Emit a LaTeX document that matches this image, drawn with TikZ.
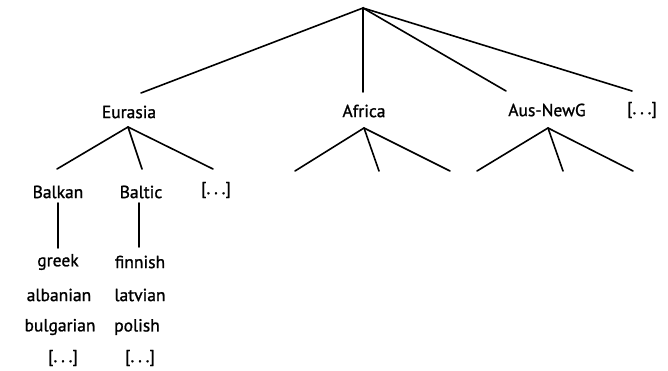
\documentclass[tikz,border=0pt]{standalone}
\usepackage{fontspec}
\setmainfont{PT Sans}[FakeBold=1.2]
\newcommand{\elide}{[.\hspace{0.22em}.\hspace{0.22em}.]}
\begin{document}
\begin{tikzpicture}[x=1pt,y=-1pt,
  lbl/.style={inner sep=0pt,font=\fontsize{17.5}{20}\selectfont},
  edge/.style={line width=1.6pt,line cap=round}]
\useasboundingbox (0,0) rectangle (668,371);
% root and top-level branch points
\coordinate (root) at (363,8);
\node[lbl] (eur) at (129,112) {Eurasia};
\node[lbl] (afr) at (364,111) {Africa};
\node[lbl] (aus) at (547,110) {Aus-NewG};
\node[lbl] (rest) at (642,110) {\elide};
\coordinate (eurT) at (141,93);
\coordinate (afrT) at (363,92);
\coordinate (ausT) at (506,91);
\coordinate (restT) at (632,91);
\draw[edge] (eurT) -- (root) -- (afrT);
\draw[edge] (root) -- (ausT);
\draw[edge] (root) -- (restT);
% Eurasia subtree
\coordinate (eurB) at (128,127);
\coordinate (e1) at (57,169);
\coordinate (e2) at (142,169);
\coordinate (e3) at (213,169);
\draw[edge] (e1) -- (eurB) -- (e3);
\draw[edge] (eurB) -- (e2);
\node[lbl] (balkan) at (58,192) {Balkan};
\node[lbl] (baltic) at (141,192) {Baltic};
\node[lbl] (erest) at (216,190) {\elide};
\coordinate (bk1) at (58,203);
\coordinate (bk2) at (58,248);
\coordinate (bt1) at (139,203);
\coordinate (bt2) at (139,247);
\draw[edge] (bk1) -- (bk2);
\draw[edge] (bt1) -- (bt2);
\node[lbl] (greek) at (58,262) {greek};
\node[lbl] (alb) at (59,295) {albanian};
\node[lbl] (bul) at (60,327) {bulgarian};
\node[lbl] (bkrest) at (63,358) {\elide};
\node[lbl] (fin) at (140,262) {finnish};
\node[lbl] (lat) at (140,295) {latvian};
\node[lbl] (pol) at (137,327) {polish};
\node[lbl] (btrest) at (140,358) {\elide};
% Africa subtree
\coordinate (afrB) at (364,128);
\coordinate (a1) at (295,171);
\coordinate (a2) at (379,171);
\coordinate (a3) at (450,171);
\draw[edge] (a1) -- (afrB) -- (a3);
\draw[edge] (afrB) -- (a2);
% Aus-NewG subtree
\coordinate (ausB) at (548,128);
\coordinate (n1) at (477,171);
\coordinate (n2) at (563,171);
\coordinate (n3) at (633,171);
\draw[edge] (n1) -- (ausB) -- (n3);
\draw[edge] (ausB) -- (n2);
\end{tikzpicture}
\end{document}
